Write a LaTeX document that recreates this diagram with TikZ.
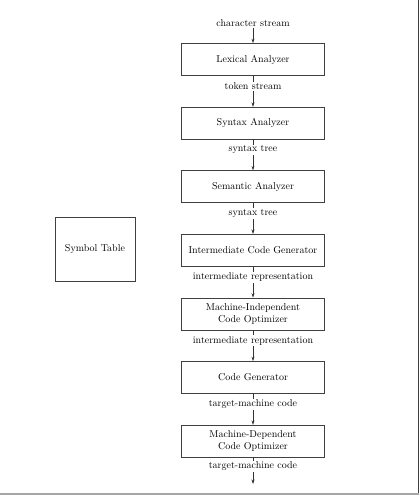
\documentclass[tikz,border=0pt]{standalone}
\usepackage{tikz}
\usetikzlibrary{positioning,arrows.meta}

\tikzset{
  phase/.style={draw=black!75, line width=0.6pt, minimum width=143pt, minimum height=32pt, align=center, inner sep=1pt},
  flow/.style={draw=black!80, line width=0.6pt, -{Stealth[length=4.5pt,width=3pt]}},
  lbl/.style={fill=white, inner sep=1pt, pos=0.34}
}

\begin{document}
\begin{tikzpicture}[x=1pt, y=1pt, node distance=31pt]
        \useasboundingbox (0,0) rectangle (420,-495);
        % page edges
        \draw [black!75, line width=1.6pt] (418.6,0) -- (418.6,-495);
        \draw [black!35, line width=1.2pt] (0,-494) -- (418.6,-494);

        % phases
        \node [inner sep=1pt] (in) at (253,-23) {character stream};
        \node [phase] (lex) at (253,-59.5) {Lexical Analyzer};
        \node [phase, below=of lex] (syn) {Syntax Analyzer};
        \node [phase, below=of syn] (sem) {Semantic Analyzer};
        \node [phase, below=of sem] (icg) {Intermediate Code Generator};
        \node [phase, below=of icg] (mio) {Machine-Independent\\Code Optimizer};
        \node [phase, below=of mio] (gen) {Code Generator};
        \node [phase, below=of gen] (mdo) {Machine-Dependent\\Code Optimizer};
        \coordinate (out) at (253,-484);

        \node [phase, minimum width=80pt, minimum height=64pt] (sym) at (95,-249) {Symbol Table};

        % streams between phases
        \draw [flow] (in) -- (lex);
        \draw [flow] (lex) -- node[lbl] {token stream} (syn);
        \draw [flow] (syn) -- node[lbl] {syntax tree} (sem);
        \draw [flow] (sem) -- node[lbl] {syntax tree} (icg);
        \draw [flow] (icg) -- node[lbl] {intermediate representation} (mio);
        \draw [flow] (mio) -- node[lbl] {intermediate representation} (gen);
        \draw [flow] (gen) -- node[lbl] {target-machine code} (mdo);
        \draw [flow] (mdo) -- node[lbl] {target-machine code} (out);
    \end{tikzpicture}
\end{document}
